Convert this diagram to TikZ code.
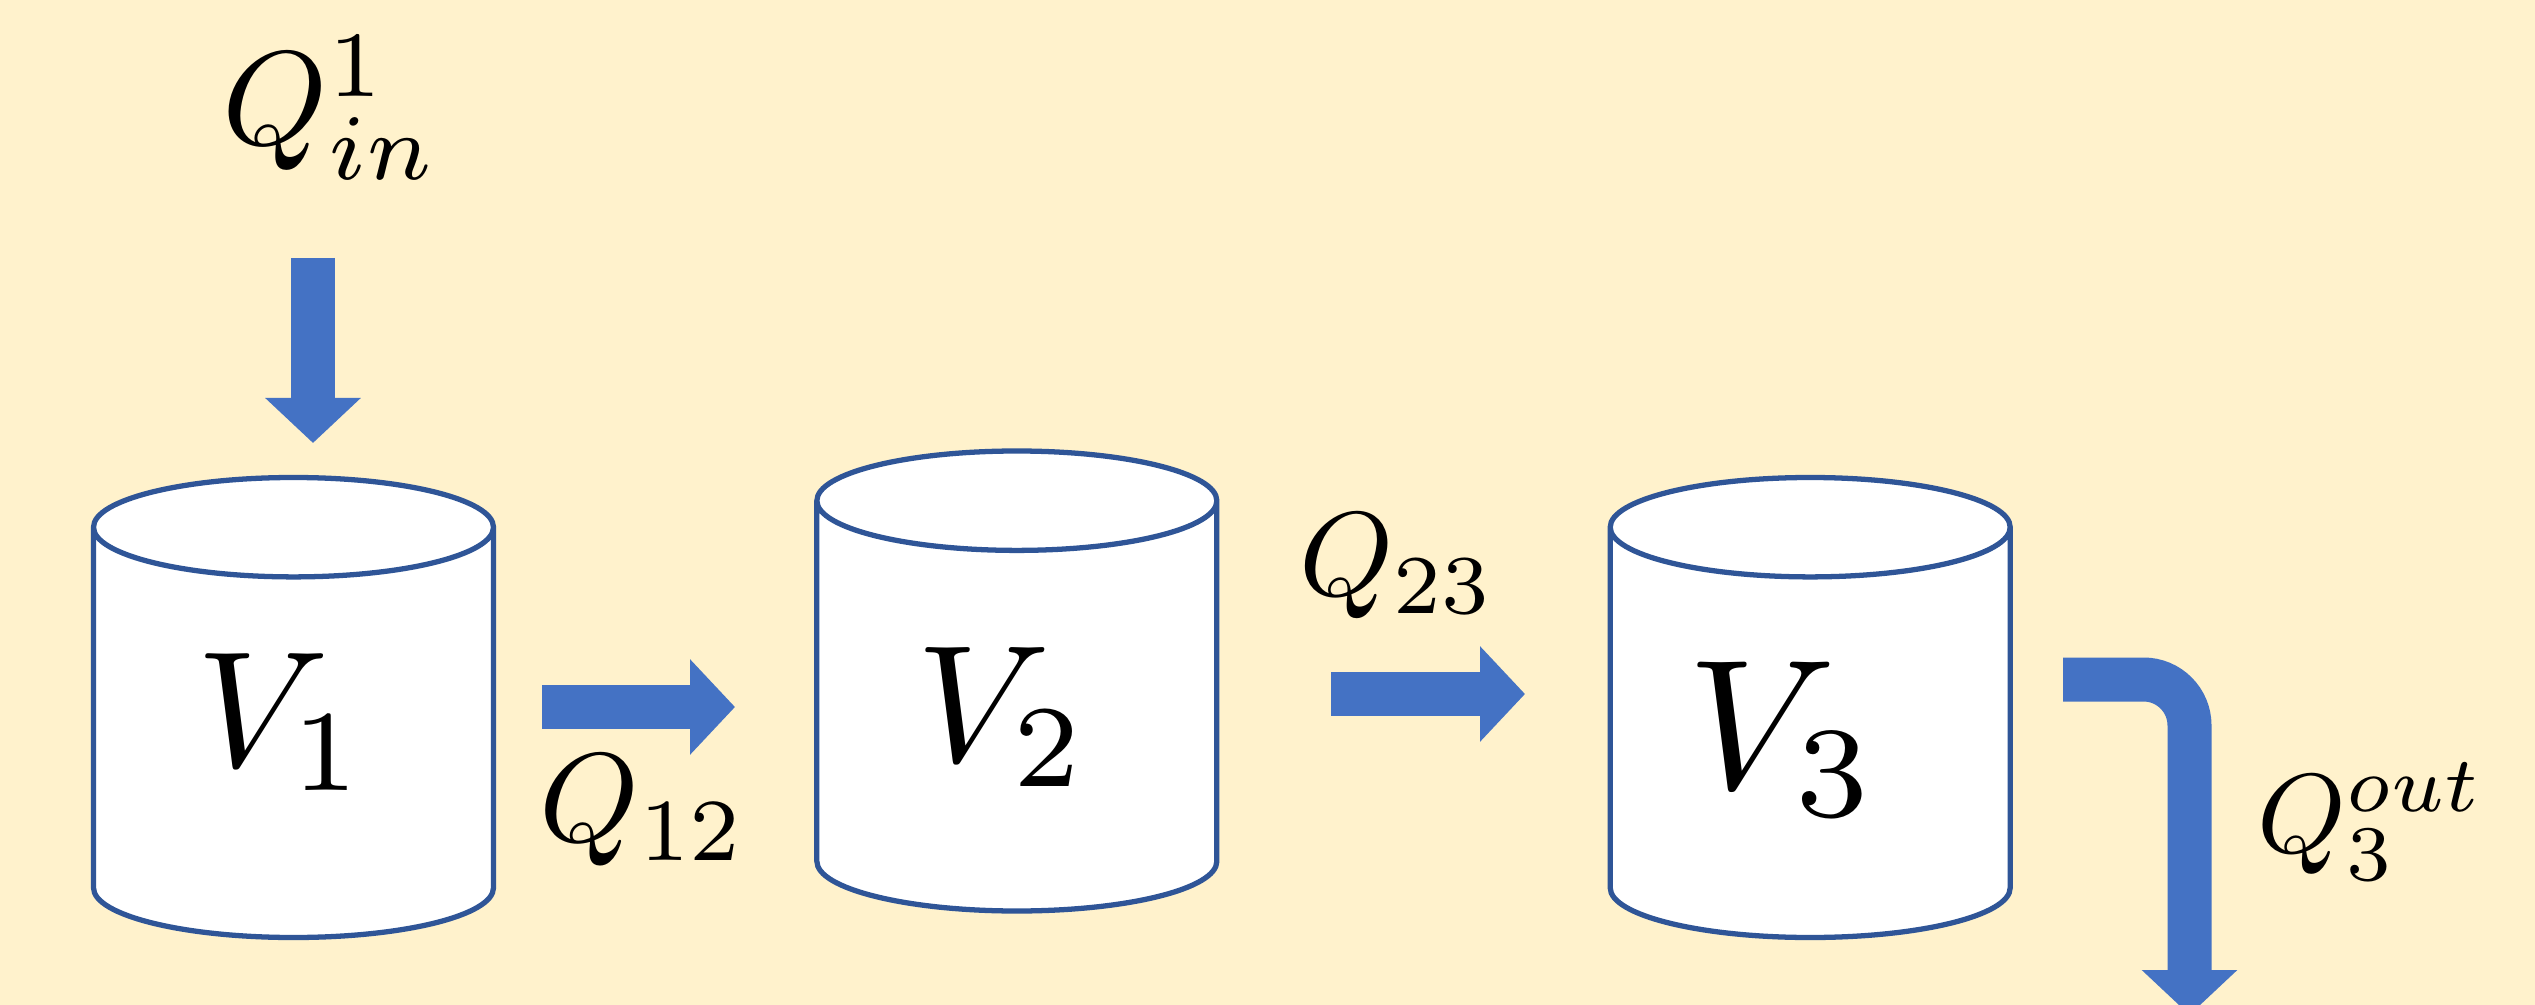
\documentclass[tikz,border=0pt]{standalone}
\usepackage{graphicx}
\usepackage{tikz}
\usetikzlibrary{arrows.meta, shapes.geometric, positioning, calc}

\definecolor{paper}{HTML}{FFF2CC}
\definecolor{flowblue}{HTML}{4472C4}
\definecolor{tankline}{HTML}{2F5597}

\begin{document}
\begin{tikzpicture}[>=Stealth, node distance=3.25cm,
    tank/.style={cylinder, shape border rotate=90, aspect=0.71, draw=tankline,
                 line width=1.5pt, fill=white, minimum width=4cm,
                 minimum height=4.6cm, inner sep=0pt, text width=1.4cm,
                 text height=0.7cm, text depth=0.7cm},
    vol/.style={inner sep=0pt, scale=4.7},
    flow/.style={draw=flowblue, line width=0.44cm,
                 -{Triangle[length=0.45cm, width=0.93cm]}},
    rate/.style={inner sep=0pt}]

    \fill[paper] (0,0) rectangle (25.35,-10.05);
    \useasboundingbox (0,0) rectangle (25.35,-10.05);

    % tanks
    \node[tank, anchor=shape center] (tank1) at (2.935,-7.075) {};
    \node[tank, right=3.18cm of tank1, yshift=0.265cm] (tank2) {};
    \node[tank, right=3.88cm of tank2, yshift=-0.265cm] (tank3) {};

    \node[vol] (v1) at ([xshift=-0.12cm, yshift=-0.145cm]tank1.shape center) {$V_1$};
    \node[vol, scale=1.01] (v2) at ([xshift=-0.145cm, yshift=-0.36cm]tank2.shape center) {$V_2$};
    \node[vol, scale=1.12] (v3) at ([xshift=-0.275cm, yshift=-0.315cm]tank3.shape center) {$V_3$};

    % flows
    \coordinate (in0) at (3.13,-2.58);
    \coordinate (in1) at (3.13,-4.43);
    \coordinate (f12a) at (5.42,-7.07);
    \coordinate (f12b) at (7.35,-7.07);
    \coordinate (f23a) at (13.31,-6.94);
    \coordinate (f23b) at (15.25,-6.94);
    \coordinate (out0) at (20.63,-6.795);
    \coordinate (out1) at (21.895,-10.15);

    \draw[flow] (in0) -- (in1);
    \draw[flow] (f12a) -- (f12b);
    \draw[flow] (f23a) -- (f23b);
    \draw[flow, rounded corners=0.46cm] (out0) -| (out1);

    \node[rate, scale=3.8] (qin) at (3.31,-1.08) {$Q_{in}^1$};
    \node[rate, scale=3.6] (q12) at (6.43,-8.11) {$Q_{12}$};
    \node[rate, scale=3.4] (q23) at (13.97,-5.66) {$Q_{23}$};
    \node[rate, scale=3.2] (qout) at (23.71,-8.22) {$Q_3^{out}$};
\end{tikzpicture}
\end{document}
